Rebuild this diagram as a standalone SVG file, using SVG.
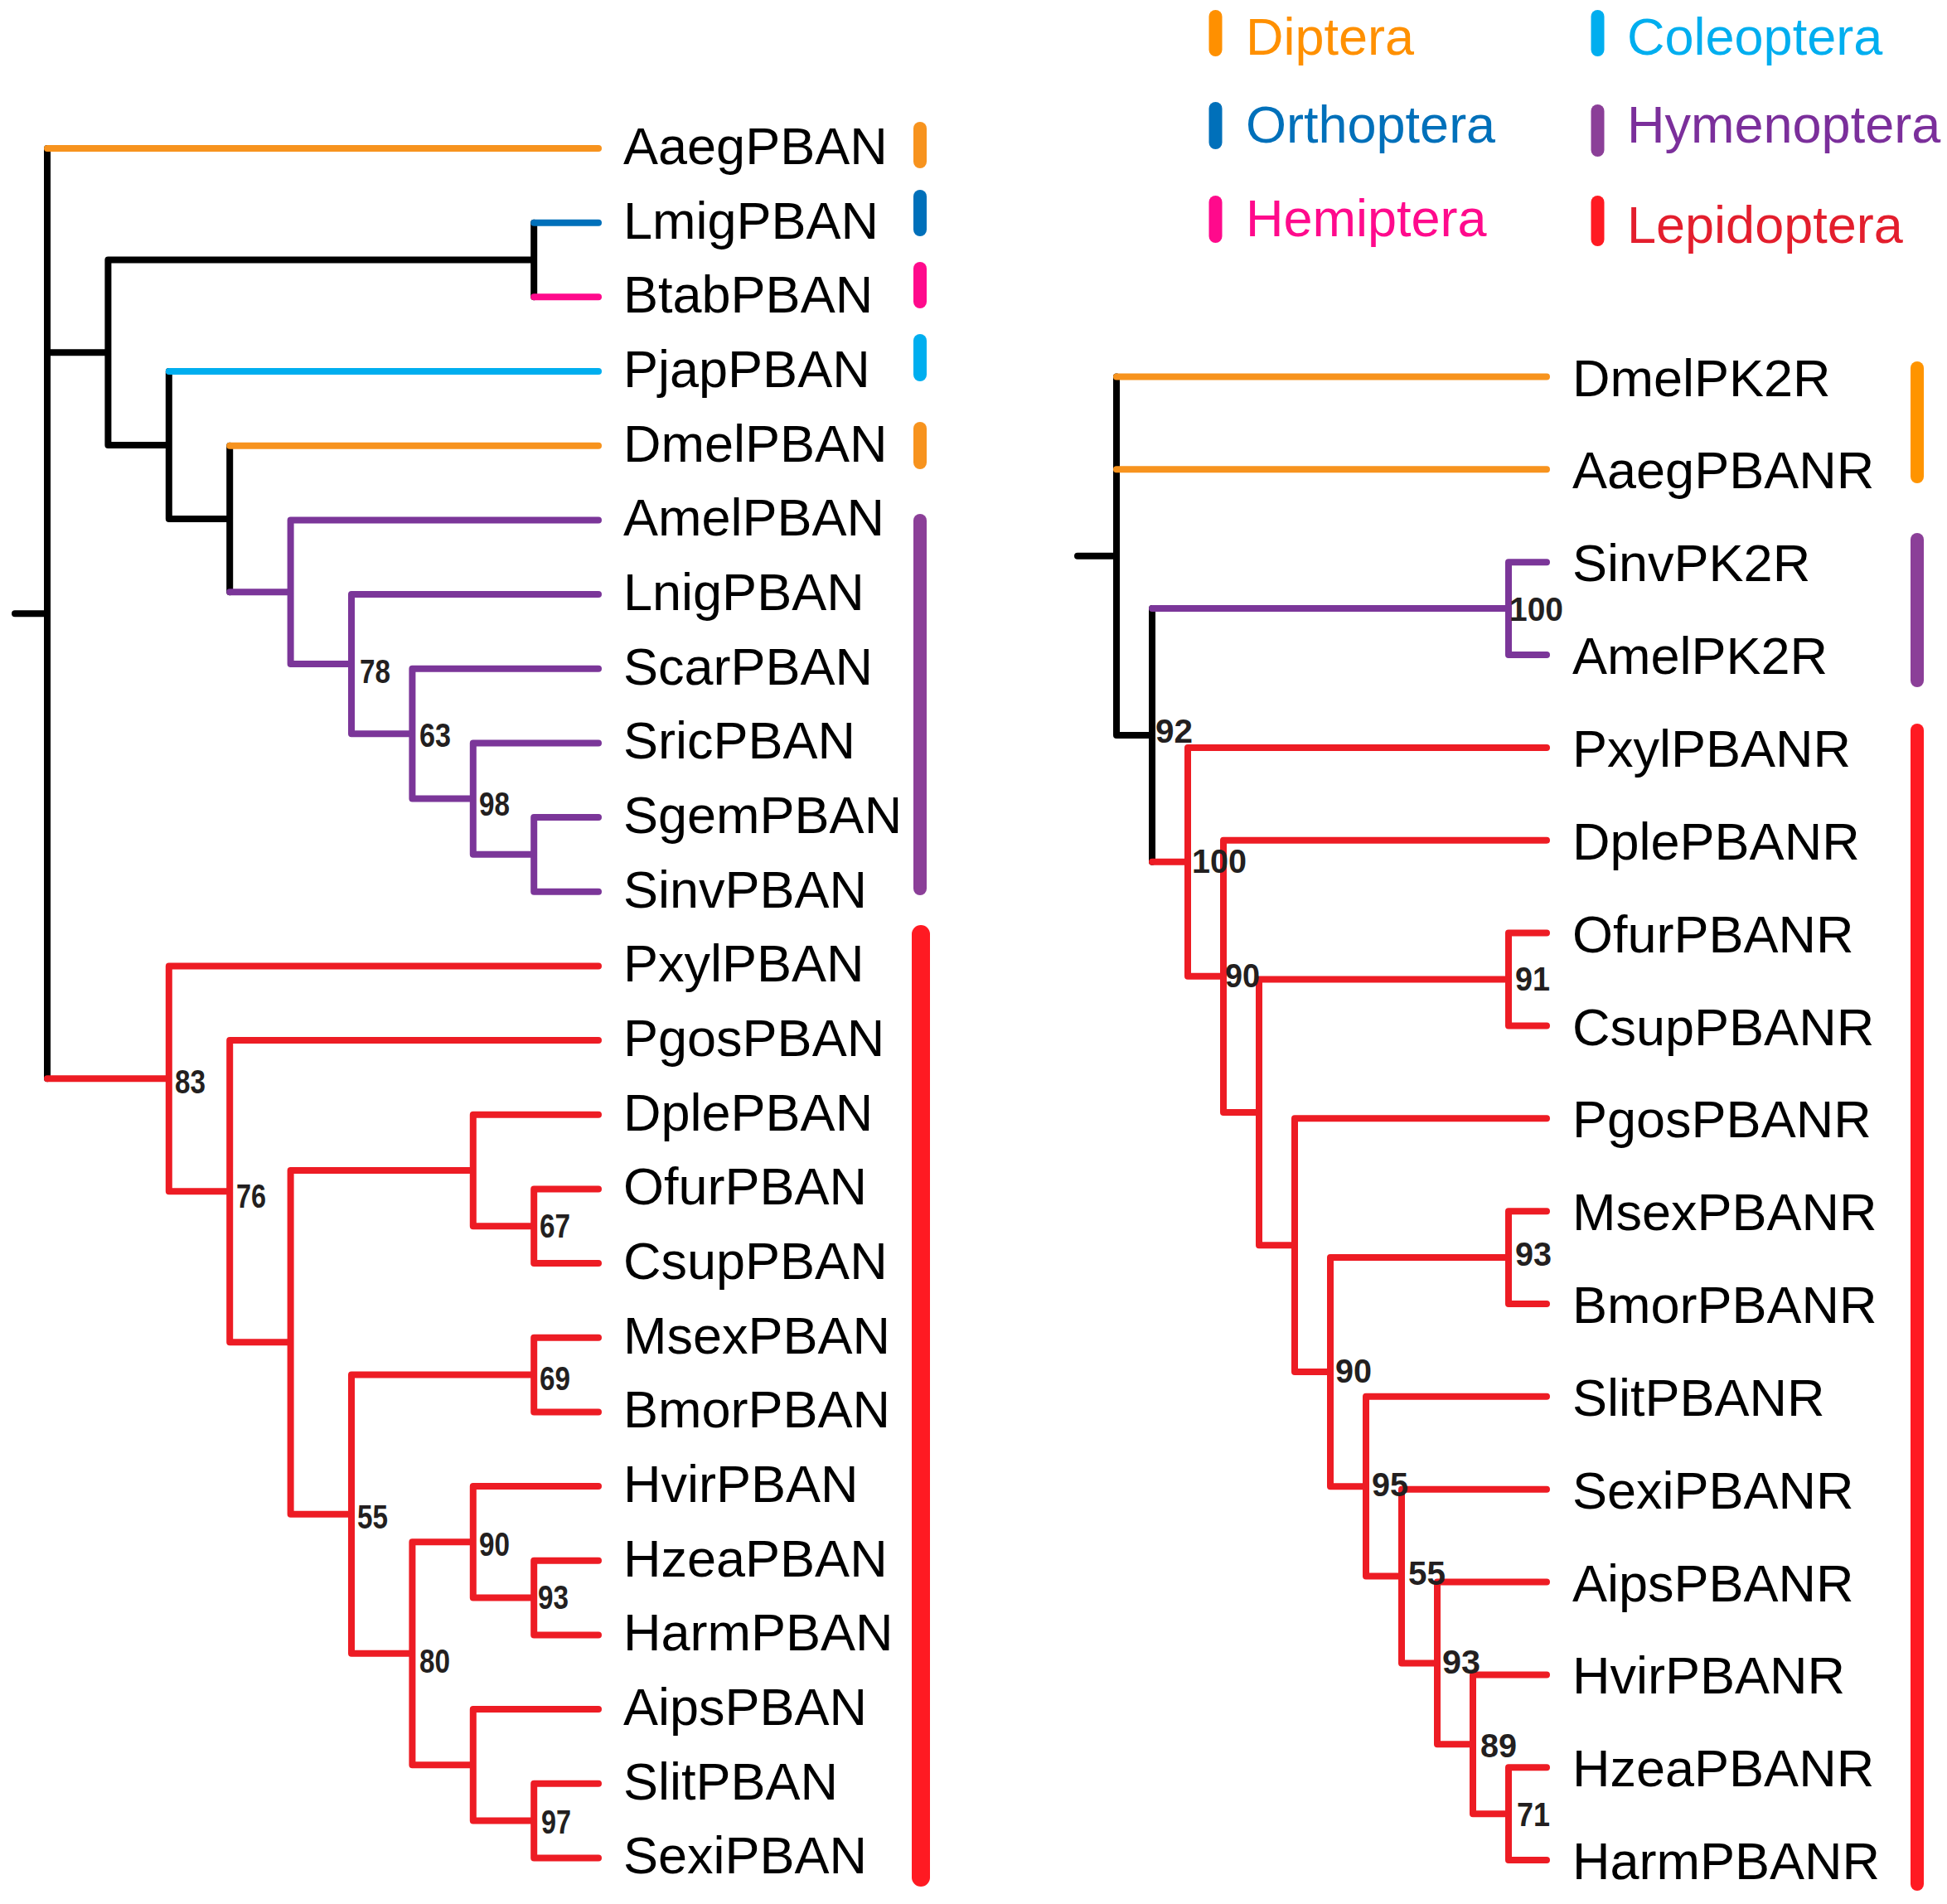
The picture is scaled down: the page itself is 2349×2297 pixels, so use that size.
<svg xmlns="http://www.w3.org/2000/svg" width="2349" height="2297" viewBox="0 0 2349 2297">
<style>
.b{fill:none;stroke-width:8;stroke-linecap:round;stroke-linejoin:round}
.k{stroke:#000}
.o{stroke:#F7931E}
.bl{stroke:#0070BA}
.pk{stroke:#FF0A8C}
.lb{stroke:#00AEEF}
.pu{stroke:#7B3699}
.r{stroke:#ED1C24}
.lab{font-family:"Liberation Sans",Arial,sans-serif;font-size:63px;fill:#000}
.bs{font-family:"Liberation Sans",Arial,sans-serif;font-weight:bold;font-size:40px;fill:#231F20}
.bs2{font-family:"Liberation Sans",Arial,sans-serif;font-weight:bold;font-size:41px;fill:#231F20}
.leg{font-family:"Liberation Sans",Arial,sans-serif;font-size:63px}
.bar{stroke-linecap:round;fill:none}
</style>
<rect width="2349" height="2297" fill="#fff"/>
<g id="connectors">
<path class="b k" d="M18 740.2H57M57 179V1301.3M57 425.3H130.4M130.4 313.5V537M130.4 313.5H644.2M644.2 268.67V358.34M130.4 537H203.8M203.8 448V626M203.8 626H277.2M277.2 537.7V714.2"/>
<path class="b o" d="M57 179H722M277.2 537.7H722"/>
<path class="b bl" d="M644.2 268.67H722"/>
<path class="b pk" d="M644.2 358.34H722"/>
<path class="b lb" d="M203.8 448H722"/>
<path class="b pu" d="M277.2 714.2H350.6M350.6 627.4V801.1M350.6 627.4H722M350.6 801.1H424M424 717V885.2M424 717H722M424 885.2H497.4M497.4 806.7V963.6M497.4 806.7H722M497.4 963.6H570.8M570.8 896.4V1030.85M570.8 896.4H722M570.8 1030.85H644.2M644.2 986V1075.7M644.2 986H722M644.2 1075.7H722"/>
<path class="b r" d="M57 1301.3H203.8M203.8 1165.4V1437.2M203.8 1165.4H722M203.8 1437.2H277.2M277.2 1255V1619.3M277.2 1255H722M277.2 1619.3H350.6M350.6 1412V1826.7M350.6 1412H570.8M570.8 1344.7V1479.25M570.8 1344.7H722M570.8 1479.25H644.2M644.2 1434.4V1524.1M644.2 1434.4H722M644.2 1524.1H722M350.6 1826.7H424M424 1658.55V1994.8M424 1658.55H644.2M644.2 1613.7V1703.4M644.2 1613.7H722M644.2 1703.4H722M424 1994.8H497.4M497.4 1860.3V2129.3M497.4 1860.3H570.8M570.8 1793.1V1927.55M570.8 1793.1H722M570.8 1927.55H644.2M644.2 1882.7V1972.4M644.2 1882.7H722M644.2 1972.4H722M497.4 2129.3H570.8M570.8 2062.1V2196.55M570.8 2062.1H722M570.8 2196.55H644.2M644.2 2151.7V2241.4M644.2 2151.7H722M644.2 2241.4H722"/>
<path class="b k" d="M1300 670.7H1347M1347 454.5V887M1347 887H1390M1390 734.1V1039.85"/>
<path class="b o" d="M1347 454.5H1866M1347 566.35H1866"/>
<path class="b pu" d="M1390 734.1H1820M1820 678.2V790.05M1820 678.2H1866M1820 790.05H1866"/>
<path class="b r" d="M1390 1039.85H1433M1433 901.9V1177.8M1433 901.9H1866M1433 1177.8H1476M1476 1013.75V1341.9M1476 1013.75H1866M1476 1341.9H1519M1519 1181.5V1502.2M1519 1181.5H1820M1820 1125.6V1237.45M1820 1125.6H1866M1820 1237.45H1866M1519 1502.2H1562M1562 1349.3V1655.1M1562 1349.3H1866M1562 1655.1H1605M1605 1517.1V1793.2M1605 1517.1H1820M1820 1461.15V1573M1820 1461.15H1866M1820 1573H1866M1605 1793.2H1648M1648 1684.85V1901.6M1648 1684.85H1866M1648 1901.6H1691M1691 1796.7V2006.4M1691 1796.7H1866M1691 2006.4H1734M1734 1908.55V2104.3M1734 1908.55H1866M1734 2104.3H1777M1777 2020.4V2188.2M1777 2020.4H1866M1777 2188.2H1820M1820 2132.25V2244.1M1820 2132.25H1866M1820 2244.1H1866"/>
</g>
<g id="left-leaves" class="lab">
<g id="AaegPBAN"><text x="752" y="198">AaegPBAN</text></g>
<g id="LmigPBAN"><text x="752" y="287.7">LmigPBAN</text></g>
<g id="BtabPBAN"><text x="752" y="377.3">BtabPBAN</text></g>
<g id="PjapPBAN"><text x="752" y="467">PjapPBAN</text></g>
<g id="DmelPBAN"><text x="752" y="556.7">DmelPBAN</text></g>
<g id="AmelPBAN"><text x="752" y="646.4">AmelPBAN</text></g>
<g id="LnigPBAN"><text x="752" y="736">LnigPBAN</text></g>
<g id="ScarPBAN"><text x="752" y="825.7">ScarPBAN</text></g>
<g id="SricPBAN"><text x="752" y="915.4">SricPBAN</text></g>
<g id="SgemPBAN"><text x="752" y="1005">SgemPBAN</text></g>
<g id="SinvPBAN"><text x="752" y="1094.7">SinvPBAN</text></g>
<g id="PxylPBAN"><text x="752" y="1184.4">PxylPBAN</text></g>
<g id="PgosPBAN"><text x="752" y="1274">PgosPBAN</text></g>
<g id="DplePBAN"><text x="752" y="1363.7">DplePBAN</text></g>
<g id="OfurPBAN"><text x="752" y="1453.4">OfurPBAN</text></g>
<g id="CsupPBAN"><text x="752" y="1543.1">CsupPBAN</text></g>
<g id="MsexPBAN"><text x="752" y="1632.7">MsexPBAN</text></g>
<g id="BmorPBAN"><text x="752" y="1722.4">BmorPBAN</text></g>
<g id="HvirPBAN"><text x="752" y="1812.1">HvirPBAN</text></g>
<g id="HzeaPBAN"><text x="752" y="1901.7">HzeaPBAN</text></g>
<g id="HarmPBAN"><text x="752" y="1991.4">HarmPBAN</text></g>
<g id="AipsPBAN"><text x="752" y="2081.1">AipsPBAN</text></g>
<g id="SlitPBAN"><text x="752" y="2170.7">SlitPBAN</text></g>
<g id="SexiPBAN"><text x="752" y="2260.4">SexiPBAN</text></g>
</g>
<g id="right-leaves" class="lab">
<g id="DmelPK2R"><text x="1897" y="477.5">DmelPK2R</text></g>
<g id="AaegPBANR"><text x="1897" y="589.4">AaegPBANR</text></g>
<g id="SinvPK2R"><text x="1897" y="701.2">SinvPK2R</text></g>
<g id="AmelPK2R"><text x="1897" y="813">AmelPK2R</text></g>
<g id="PxylPBANR"><text x="1897" y="924.9">PxylPBANR</text></g>
<g id="DplePBANR"><text x="1897" y="1036.8">DplePBANR</text></g>
<g id="OfurPBANR"><text x="1897" y="1148.6">OfurPBANR</text></g>
<g id="CsupPBANR"><text x="1897" y="1260.5">CsupPBANR</text></g>
<g id="PgosPBANR"><text x="1897" y="1372.3">PgosPBANR</text></g>
<g id="MsexPBANR"><text x="1897" y="1484.2">MsexPBANR</text></g>
<g id="BmorPBANR"><text x="1897" y="1596">BmorPBANR</text></g>
<g id="SlitPBANR"><text x="1897" y="1707.9">SlitPBANR</text></g>
<g id="SexiPBANR"><text x="1897" y="1819.7">SexiPBANR</text></g>
<g id="AipsPBANR"><text x="1897" y="1931.6">AipsPBANR</text></g>
<g id="HvirPBANR"><text x="1897" y="2043.4">HvirPBANR</text></g>
<g id="HzeaPBANR"><text x="1897" y="2155.3">HzeaPBANR</text></g>
<g id="HarmPBANR"><text x="1897" y="2267.1">HarmPBANR</text></g>
</g>
<g id="bootstrap-left" class="bs">
<text x="434" y="824" textLength="37" lengthAdjust="spacingAndGlyphs">78</text>
<text x="506" y="901" textLength="38" lengthAdjust="spacingAndGlyphs">63</text>
<text x="578" y="984" textLength="37" lengthAdjust="spacingAndGlyphs">98</text>
<text x="211" y="1319" textLength="37" lengthAdjust="spacingAndGlyphs">83</text>
<text x="285" y="1457" textLength="36" lengthAdjust="spacingAndGlyphs">76</text>
<text x="651" y="1493" textLength="37" lengthAdjust="spacingAndGlyphs">67</text>
<text x="651" y="1677" textLength="37" lengthAdjust="spacingAndGlyphs">69</text>
<text x="431" y="1844" textLength="37" lengthAdjust="spacingAndGlyphs">55</text>
<text x="578" y="1877" textLength="37" lengthAdjust="spacingAndGlyphs">90</text>
<text x="649" y="1941" textLength="37" lengthAdjust="spacingAndGlyphs">93</text>
<text x="506" y="2018" textLength="37" lengthAdjust="spacingAndGlyphs">80</text>
<text x="653" y="2212" textLength="36" lengthAdjust="spacingAndGlyphs">97</text>
</g>
<g id="bootstrap-right" class="bs2">
<text x="1821" y="749" textLength="65" lengthAdjust="spacingAndGlyphs">100</text>
<text x="1394" y="896" textLength="45" lengthAdjust="spacingAndGlyphs">92</text>
<text x="1438" y="1053" textLength="66" lengthAdjust="spacingAndGlyphs">100</text>
<text x="1478" y="1191" textLength="42" lengthAdjust="spacingAndGlyphs">90</text>
<text x="1828" y="1195" textLength="42" lengthAdjust="spacingAndGlyphs">91</text>
<text x="1828" y="1527" textLength="44" lengthAdjust="spacingAndGlyphs">93</text>
<text x="1611" y="1668" textLength="44" lengthAdjust="spacingAndGlyphs">90</text>
<text x="1655" y="1805" textLength="44" lengthAdjust="spacingAndGlyphs">95</text>
<text x="1699" y="1912" textLength="45" lengthAdjust="spacingAndGlyphs">55</text>
<text x="1740" y="2019" textLength="46" lengthAdjust="spacingAndGlyphs">93</text>
<text x="1786" y="2120" textLength="44" lengthAdjust="spacingAndGlyphs">89</text>
<text x="1830" y="2203" textLength="40" lengthAdjust="spacingAndGlyphs">71</text>
</g>
<g id="clade-bars">
<path class="bar" stroke="#F7931E" stroke-width="16" d="M1110 155V195"/>
<path class="bar" stroke="#0070BA" stroke-width="16" d="M1110 237V277"/>
<path class="bar" stroke="#FF0A8C" stroke-width="16" d="M1110 324V364"/>
<path class="bar" stroke="#00AEEF" stroke-width="16" d="M1110 411V452"/>
<path class="bar" stroke="#F7931E" stroke-width="16" d="M1110 517V558"/>
<path class="bar" stroke="#8B3F98" stroke-width="16" d="M1110 628V1072"/>
<path class="bar" stroke="#FF1A22" stroke-width="22" d="M1111 1127V2265"/>
<path class="bar" stroke="#FF9400" stroke-width="16" d="M2313 444V575"/>
<path class="bar" stroke="#8B3F98" stroke-width="16" d="M2313 651V821"/>
<path class="bar" stroke="#FF1A22" stroke-width="16" d="M2313 881V2273"/>
</g>
<g id="legend">
<g id="leg-diptera"><path class="bar" stroke="#FF9000" stroke-width="16" d="M1466.5 20V60"/><text class="leg" x="1503" y="66" fill="#FF9000">Diptera</text></g>
<g id="leg-orthoptera"><path class="bar" stroke="#0070BA" stroke-width="16" d="M1466.5 131V172"/><text class="leg" x="1503" y="172" fill="#0070BA">Orthoptera</text></g>
<g id="leg-hemiptera"><path class="bar" stroke="#FF0A8C" stroke-width="16" d="M1466.5 244V285"/><text class="leg" x="1503" y="285" fill="#FF0A8C">Hemiptera</text></g>
<g id="leg-coleoptera"><path class="bar" stroke="#00AEEF" stroke-width="16" d="M1927.5 20V60"/><text class="leg" x="1963" y="66" fill="#00AEEF">Coleoptera</text></g>
<g id="leg-hymenoptera"><path class="bar" stroke="#8B3F98" stroke-width="16" d="M1927.5 134V181"/><text class="leg" x="1963" y="172" fill="#7B2F9B">Hymenoptera</text></g>
<g id="leg-lepidoptera"><path class="bar" stroke="#FF1A22" stroke-width="16" d="M1927.5 244V289"/><text class="leg" x="1963" y="293" fill="#E31E2D">Lepidoptera</text></g>
</g>
</svg>
